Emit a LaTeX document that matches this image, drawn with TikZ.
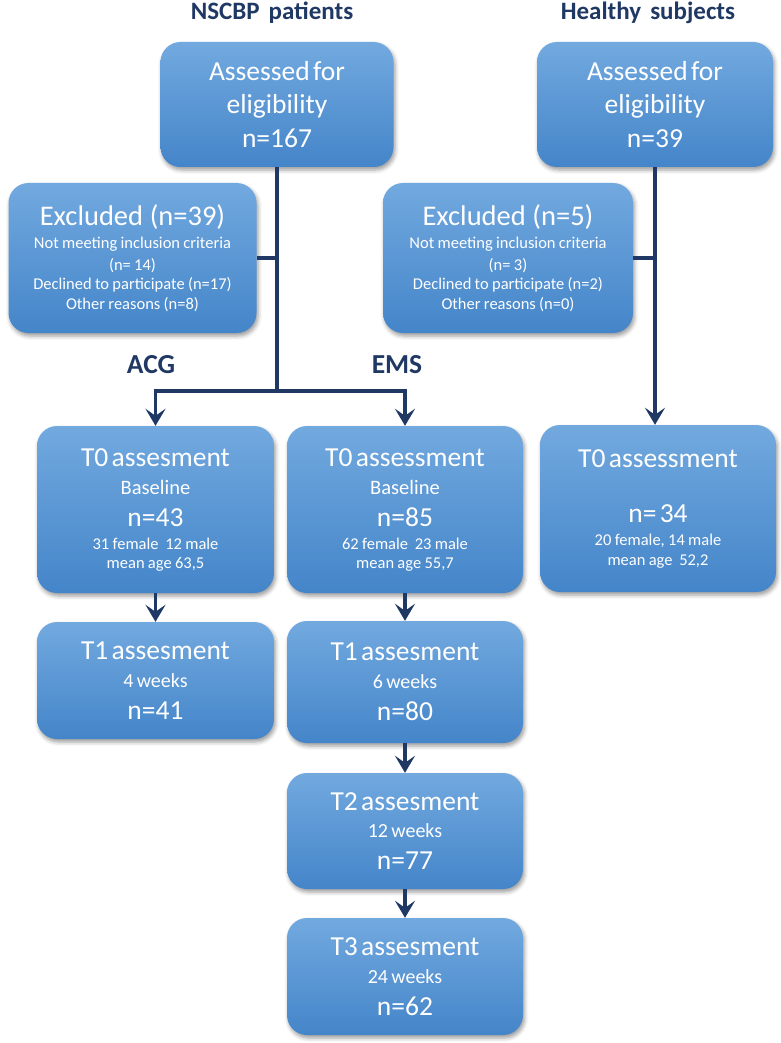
\documentclass[tikz,border=0pt]{standalone}
\usepackage{fontspec}
\setmainfont{Carlito}[WordSpace=1.6]
\usetikzlibrary{shadows.blur,arrows.meta}
\definecolor{navy}{HTML}{1F3864}
\definecolor{boxtop}{HTML}{72A9DF}
\definecolor{boxbot}{HTML}{4485C9}
\setlength{\parindent}{0pt}
\newcommand{\bl}[3]{{\fontsize{#1}{#2}\selectfont #3\par}}
\begin{document}
\begin{tikzpicture}[x=1pt,y=-1pt,
  box/.style 2 args={rounded corners=20pt, top color=boxtop, bottom color=boxbot,
    text=white, align=center, inner sep=0pt, text width=#1pt, minimum width=#1pt,
    minimum height=#2pt,
    blur shadow={shadow xshift=1.5pt, shadow yshift=-3pt, shadow opacity=40, shadow blur radius=4pt}},
  title/.style={text=navy, font=\fontsize{25}{25}\selectfont\bfseries, inner sep=0pt},
  grp/.style={text=navy, font=\fontsize{27.5}{27.5}\selectfont\bfseries, inner sep=0pt},
  line/.style={draw=navy, line width=3.5pt},
  arr/.style={line, -{Stealth[length=17pt, width=20pt, inset=7pt]}}]
\useasboundingbox (0,0) rectangle (780,1043);

\node[title] (tn) at (272,13) {NSCBP patients};
\node[title] (th) at (648,13) {Healthy subjects};

\node[box={233}{125}] (a1) at (277,104.5)
  {\bl{27.5}{27}{Assessed for}\bl{27.5}{33}{eligibility}\bl{27.5}{34}{n=167}};
\node[box={236}{125}] (h1) at (655,104.5)
  {\bl{27.5}{27}{Assessed for}\bl{27.5}{33}{eligibility}\bl{27.5}{34}{n=39}};

\node[box={248}{150}] (e1) at (132.5,258)
  {\bl{28.5}{28}{Excluded\ \ (n=39)}\bl{16.5}{23}{Not meeting inclusion criteria}\bl{16.5}{22}{(n= 14)}\bl{16.5}{19.5}{Declined to participate (n=17)}\bl{16.5}{20}{Other reasons (n=8)}};
\node[box={250}{150}] (e2) at (508,258)
  {\bl{28.5}{28}{Excluded\ \ (n=5)}\bl{16.5}{23}{Not meeting inclusion criteria}\bl{16.5}{22}{(n= 3)}\bl{16.5}{19.5}{Declined to participate (n=2)}\bl{16.5}{20}{Other reasons (n=0)}};

\node[grp] (acg) at (151,365) {ACG};
\node[grp] (ems) at (397,365) {EMS};

\node[box={237}{167}] (t0a) at (155.5,509.5)
  {\bl{27.5}{27}{T0 assesment}\bl{20.5}{28}{Baseline}\bl{27.5}{32}{n=43}\bl{16.5}{23}{31 female\ \ 12 male}\bl{16.5}{19}{mean age 63,5}};
\node[box={236}{167}] (t0e) at (405,509.5)
  {\bl{27.5}{27}{T0 assessment}\bl{20.5}{28}{Baseline}\bl{27.5}{32}{n=85}\bl{16.5}{23}{62 female\ \ 23 male}\bl{16.5}{19}{mean age 55,7}};
\node[box={236}{167}] (t0h) at (658,508.5)
  {\bl{27.5}{27}{T0 assessment}\bl{27.5}{55}{n= 34}\bl{16.5}{23}{20 female, 14 male}\bl{16.5}{20}{mean age\ \ 52,2}};

\node[box={237}{117}] (t1a) at (155.5,680.5)
  {\bl{27.5}{27}{T1 assesment}\bl{20}{28}{4 weeks}\bl{27.5}{32}{n=41}};
\node[box={236}{122}] (t1e) at (405,682)
  {\bl{27.5}{27}{T1 assesment}\bl{20}{28}{6 weeks}\bl{27.5}{32}{n=80}};
\node[box={236}{116}] (t2) at (405,831)
  {\bl{27.5}{27}{T2 assesment}\bl{20}{27}{12 weeks}\bl{27.5}{32}{n=77}};
\node[box={236}{117}] (t3) at (405,976.5)
  {\bl{27.5}{27}{T3 assesment}\bl{20}{28}{24 weeks}\bl{27.5}{32}{n=62}};

\coordinate (split) at (277,391);
\draw[line] (a1) -- (split);
\draw[arr] (split) -| (t0a);
\draw[arr] (split) -| (t0e);
\draw[line] (e1) -- (e1 -| a1);
\draw[arr] (h1.south) -- (h1.south |- t0h.north);
\draw[line] (e2) -- (e2 -| h1);
\draw[arr] (t0a) -- (t1a);
\draw[arr] (t0e) -- (t1e);
\draw[arr] (t1e) -- (t2);
\draw[arr] (t2) -- (t3);
\end{tikzpicture}
\end{document}
